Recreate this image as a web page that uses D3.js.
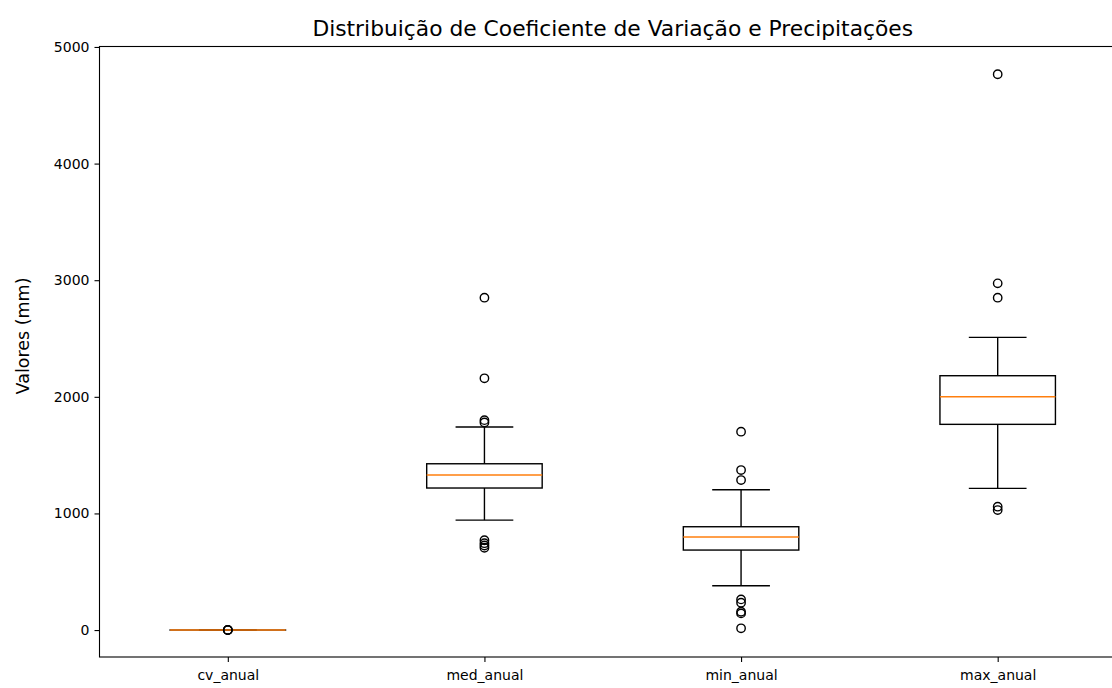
<!DOCTYPE html>
<html>
<head>
<meta charset="utf-8">
<script src="https://cdn.jsdelivr.net/npm/d3@7"></script>
<style>
  html, body { margin: 0; padding: 0; background: #fff; }
  svg text { font-family: "DejaVu Sans", sans-serif; fill: #000; }
</style>
</head>
<body>
<svg id="chart" width="1112" height="688"></svg>
<script>
// ---- Data ----
const categories   = ["cv_anual", "med_anual", "min_anual", "max_anual"];
const whiskerLow   = [0.1, 943, 380, 1215];
const q1           = [0.2, 1218, 686, 1764];
const medians      = [0.25, 1329, 798, 2001];
const q3           = [0.3, 1426, 886, 2181];
const whiskerHigh  = [0.4, 1741, 1203, 2510];
const outliers     = [
  [0.5, 0.6, 0.05],
  [2850, 2159, 1800, 1780, 770, 745, 725, 706],
  [1701, 1372, 1286, 263, 234, 157, 143, 15],
  [4766, 2973, 2850, 1058, 1029]
];
const yTicks = [0, 1000, 2000, 3000, 4000, 5000];
const titleText = "Distribuição de Coeficiente de Variação e Precipitações";
const yLabelText = "Valores (mm)";

// ---- Layout ----
const svg = d3.select("#chart");
const mLeft = 99.5, mRight = 1126, mTop = 46.5, mBottom = 657;

const x = d3.scaleLinear().domain([0.5, 4.5]).range([mLeft, mRight]);
const y = d3.scaleLinear().domain([-231, 5004]).range([mBottom, mTop]);

const boxHalf = 0.225, capHalf = 0.1125;
const lw = 1.4;

const data = categories.map((c, i) => ({
  name: c, pos: i + 1,
  wl: whiskerLow[i], q1: q1[i], med: medians[i], q3: q3[i], wh: whiskerHigh[i],
  out: outliers[i]
}));

const g = svg.append("g");

data.forEach(d => {
  const gg = g.append("g");
  gg.append("line").attr("x1", x(d.pos)).attr("x2", x(d.pos))
    .attr("y1", y(d.q1)).attr("y2", y(d.wl)).attr("stroke", "#000").attr("stroke-width", lw);
  gg.append("line").attr("x1", x(d.pos)).attr("x2", x(d.pos))
    .attr("y1", y(d.q3)).attr("y2", y(d.wh)).attr("stroke", "#000").attr("stroke-width", lw);
  [d.wl, d.wh].forEach(v => {
    gg.append("line").attr("x1", x(d.pos - capHalf)).attr("x2", x(d.pos + capHalf))
      .attr("y1", y(v)).attr("y2", y(v)).attr("stroke", "#000").attr("stroke-width", lw);
  });
  gg.append("rect").attr("x", x(d.pos - boxHalf)).attr("width", x(d.pos + boxHalf) - x(d.pos - boxHalf))
    .attr("y", y(d.q3)).attr("height", Math.max(0, y(d.q1) - y(d.q3)))
    .attr("fill", "none").attr("stroke", "#000").attr("stroke-width", lw);
  gg.append("line").attr("x1", x(d.pos - boxHalf)).attr("x2", x(d.pos + boxHalf))
    .attr("y1", y(d.med)).attr("y2", y(d.med)).attr("stroke", "#ff7f0e").attr("stroke-width", lw);
  gg.selectAll("circle").data(d.out).enter().append("circle")
    .attr("cx", x(d.pos)).attr("cy", v => y(v)).attr("r", 4.2)
    .attr("fill", "none").attr("stroke", "#000").attr("stroke-width", lw);
});

// ---- Axes ----
const yAxis = d3.axisLeft(y).tickValues(yTicks).tickSize(5).tickPadding(5).tickFormat(d3.format("d"));
const yG = svg.append("g").attr("transform", `translate(${mLeft},0)`).call(yAxis);
const xAxis = d3.axisBottom(x).tickValues(data.map(d => d.pos)).tickSize(5).tickPadding(8)
  .tickFormat((v, i) => categories[i]);
const xG = svg.append("g").attr("transform", `translate(0,${mBottom})`).call(xAxis);
[yG, xG].forEach(a => {
  a.select(".domain").remove();
  a.selectAll(".tick line").attr("stroke", "#000").attr("stroke-width", 1.1);
  a.selectAll(".tick text").attr("font-size", 14).attr("fill", "#000");
});

svg.append("rect").attr("x", mLeft).attr("y", mTop).attr("width", mRight - mLeft).attr("height", mBottom - mTop)
  .attr("fill", "none").attr("stroke", "#000").attr("stroke-width", 1.1);

svg.append("text").attr("x", (mLeft + mRight) / 2).attr("y", 36).attr("text-anchor", "middle")
  .attr("font-size", 21.8).text(titleText);

svg.append("text").attr("transform", `translate(29,336) rotate(-90)`)
  .attr("text-anchor", "middle").attr("font-size", 17.5).text(yLabelText);
</script>
</body>
</html>
